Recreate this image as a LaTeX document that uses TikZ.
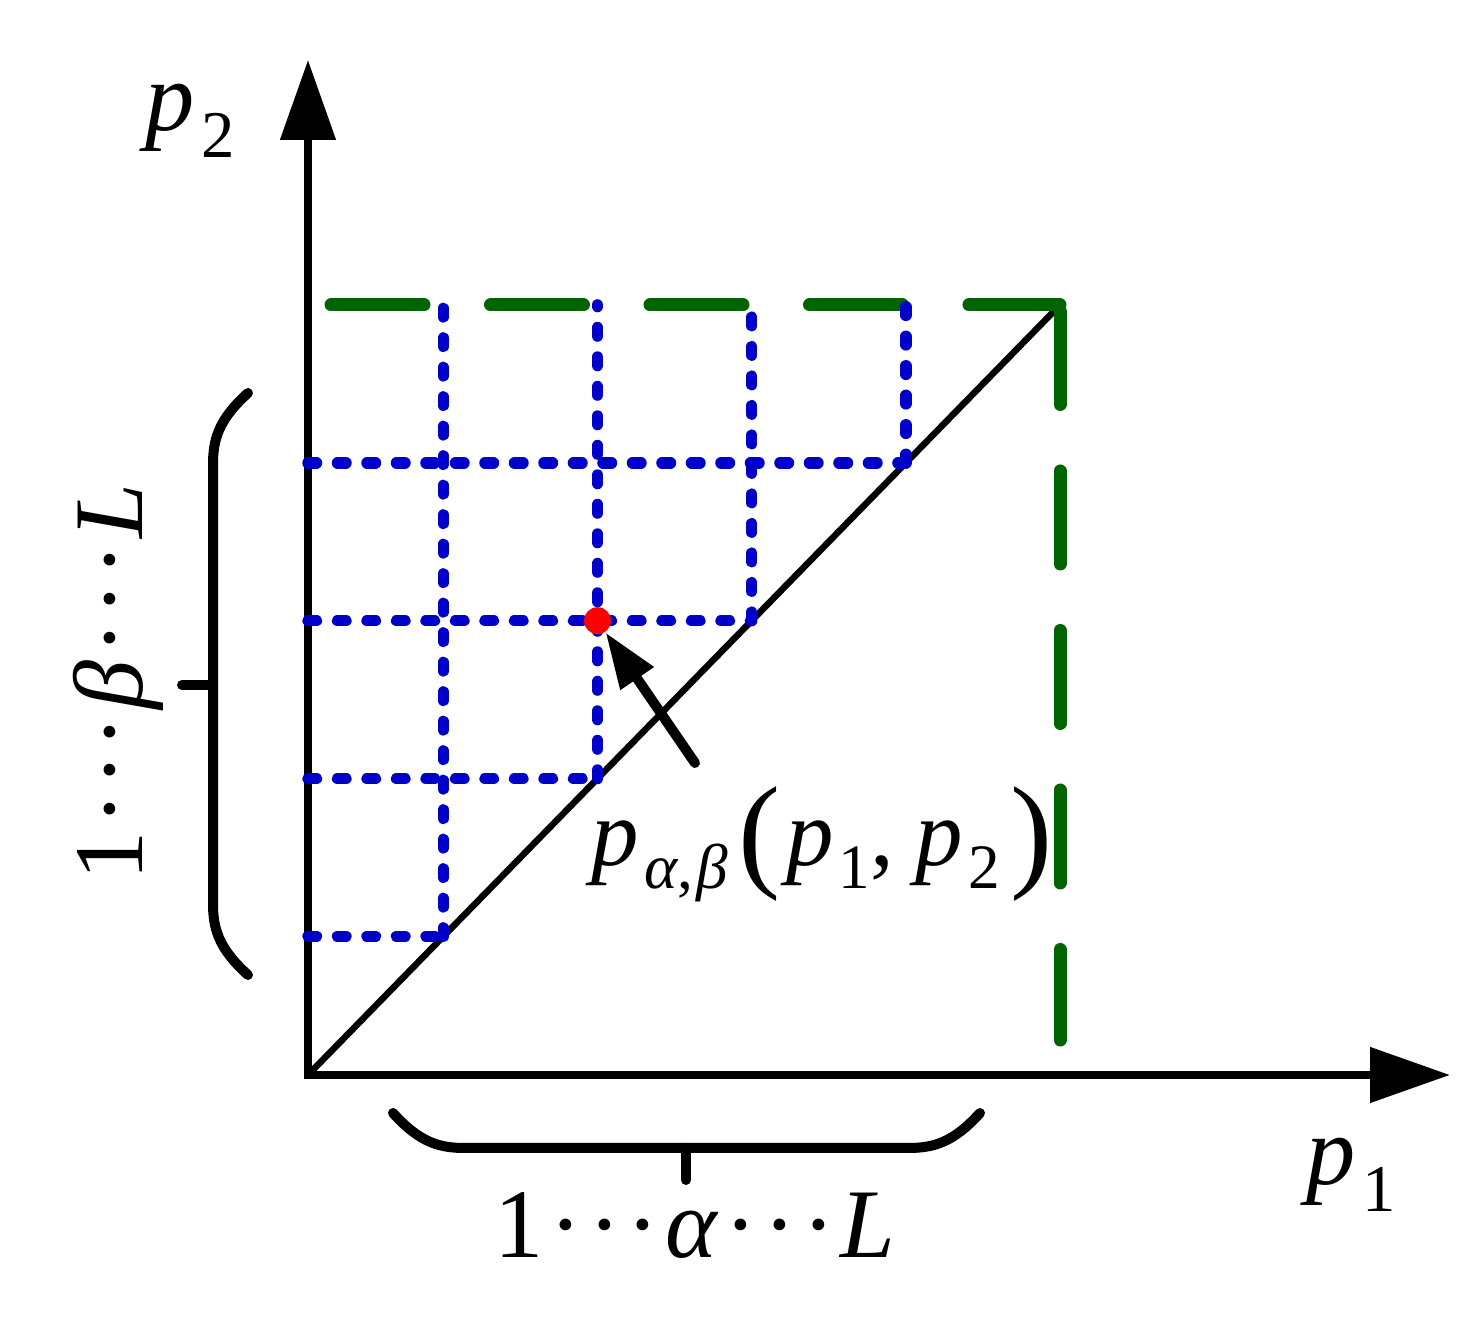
\documentclass[tikz,border=0pt]{standalone}
\usepackage{fontspec}
\setmainfont{Liberation Serif}
\usetikzlibrary{arrows.meta, calc}
\definecolor{gridblue}{RGB}{0,0,200}
\definecolor{boundgreen}{RGB}{0,100,0}
\definecolor{dotred}{RGB}{255,0,0}
\newcommand{\lsub}[1]{\kern2pt\raisebox{-7.5pt}{\fontsize{19}{19}\selectfont #1}}
\newcommand{\fsub}[1]{\kern1.5pt\raisebox{-6.5pt}{\fontsize{18}{18}\selectfont #1}}
\newcommand{\fparen}[1]{\raisebox{-2.5pt}{\fontsize{36}{36}\selectfont #1}}
\newcommand{\cdts}{\kern0.06em·\kern0.06em·\kern0.06em·\kern0.06em}
\tikzset{
  axis/.style={
    line width=0.8mm,
    {Triangle[length=8mm,width=5.4mm]}-{Triangle[length=8mm,width=5.4mm]}
  },
  diag/.style={line width=0.65mm},
  gridline/.style={draw=gridblue, line width=1.15mm, line cap=round,
                   dash pattern=on 0.85mm off 2.1mm},
  bound/.style={draw=boundgreen, line width=1.3mm, line cap=round,
                dash pattern=on 9.3mm off 6.65mm},
  brace/.style={line width=1mm, line cap=round},
  pointer/.style={line width=1mm, line cap=round,
                  -{Triangle[length=5.6mm,width=3.8mm]}},
  reddot/.style={circle, fill=dotred, inner sep=0pt, minimum size=2.7mm},
  lbl/.style={font=\fontsize{28}{32}\selectfont, inner sep=0pt},
  formula/.style={font=\fontsize{27}{31}\selectfont, inner sep=0pt},
}

\begin{document}
\begin{tikzpicture}[x=0.1mm, y=-0.1mm]
  \useasboundingbox (0,0) rectangle (1484,1322);

  \coordinate (O) at (308,1075);
  \coordinate (X) at (1450,1075);
  \coordinate (Y) at (308,60);
  \coordinate (C) at (1060,305);

  \draw[axis] (Y) -- (O) -- (X);
  \draw[diag] (O) -- (C);

  % bounds of the triangle
  \coordinate (gstart) at (331,305);
  \coordinate (gend) at (1060,1040);
  \draw[bound] (gstart) -- (C);
  \draw[bound] ($(C)+(0,6.5)$) -- (gend);

  % grid on the diagonal
  \foreach \t [count=\i] in {0.18,0.385,0.59,0.795} {
    \coordinate (g\i) at ($(O)!\t!(C)$);
    \draw[gridline] (g\i) -- (g\i |- C);
    \draw[gridline] (O |- g\i) -- (g\i);
  }

  \node[reddot] (dot) at (g2 |- g3) {};
  \coordinate (tail) at (695,763);
  \draw[pointer] (tail) -- (dot);

  % braces
  \draw[brace] (393,1113) .. controls (420,1143) and (440,1148) .. (465,1148)
    -- (908,1148) .. controls (933,1148) and (953,1143) .. (980,1113);
  \draw[brace] (686,1148) -- (686,1180);
  \draw[brace] (248,393) .. controls (218,420) and (213,440) .. (213,465)
    -- (213,903) .. controls (213,928) and (218,948) .. (248,975);
  \draw[brace] (213,685) -- (182,685);

  \node[lbl, anchor=base] (ylabel) at (190,131) {\textit{p}\lsub{2}};
  \node[lbl, anchor=base] (xlabel) at (1351,1185) {\textit{p}\lsub{1}};
  \node[lbl, anchor=base] (alabel) at (695,1258) {1\cdts\textit{α}\cdts\textit{L}};
  \node[lbl, anchor=base, rotate=90] (blabel) at (142,682) {1\cdts\textit{β}\cdts\textit{L}};
  \node[formula, anchor=base] (plabel) at (822,866)
    {\textit{p}\fsub{\textit{α},\kern1pt\textit{β}}\kern3pt\fparen{(}\kern1.5pt\textit{p}\fsub{1},\kern6pt\textit{p}\fsub{2}\kern3pt\fparen{)}};
\end{tikzpicture}
\end{document}
